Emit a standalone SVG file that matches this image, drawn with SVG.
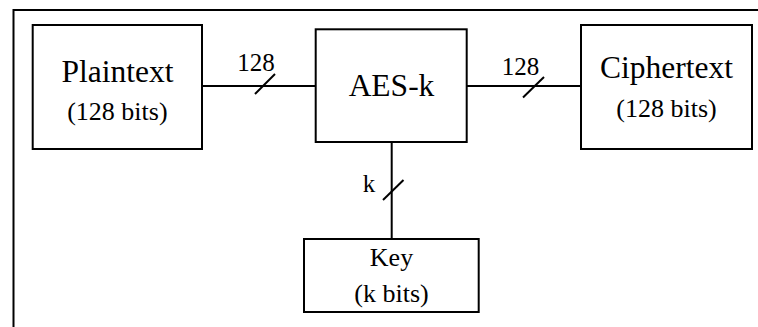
<svg xmlns="http://www.w3.org/2000/svg" width="758" height="327" viewBox="0 0 758 327">
  <style>
    .box { fill: #ffffff; stroke: #000000; stroke-width: 2; }
    .wire { fill: none; stroke: #000000; stroke-width: 2; }
    .t { fill: #000000; text-anchor: middle; }
    .big { font-size: 31.5px; }
    .mid { font-size: 26px; }
    .lbl { font-size: 25px; }
  </style>
  <rect width="758" height="327" fill="#ffffff"/>
  <!-- outer frame, running off the right and bottom edges -->
  <rect x="13.5" y="10" width="800" height="400" fill="none" stroke="#000000" stroke-width="2"/>

  <g font-family="Liberation Serif, DejaVu Serif, serif">
    <g id="connectors">
      <line class="wire" x1="202" y1="86" x2="316" y2="86"/>
      <line class="wire" x1="255" y1="94" x2="275" y2="74"/>
      <text class="t lbl" x="256" y="71">128</text>

      <line class="wire" x1="467" y1="86" x2="581" y2="86"/>
      <line class="wire" x1="523" y1="97.5" x2="544" y2="77"/>
      <text class="t lbl" x="520.5" y="75">128</text>

      <line class="wire" x1="391.7" y1="142" x2="391.7" y2="239"/>
      <line class="wire" x1="383" y1="200" x2="403.5" y2="180"/>
      <text class="t lbl" x="369" y="192">k</text>
    </g>

    <g id="plaintext">
      <rect class="box" x="32.7" y="25" width="169.3" height="124"/>
      <text class="t big" x="117.4" y="82">Plaintext</text>
      <text class="t mid" x="117.4" y="120">(128 bits)</text>
    </g>

    <g id="aes">
      <rect class="box" x="315.7" y="29.3" width="151" height="112.7"/>
      <text class="t big" x="391.5" y="96">AES-k</text>
    </g>

    <g id="ciphertext">
      <rect class="box" x="581" y="25" width="171" height="124"/>
      <text class="t big" x="666.5" y="78">Ciphertext</text>
      <text class="t mid" x="666.5" y="117">(128 bits)</text>
    </g>

    <g id="key">
      <rect class="box" x="304" y="239" width="174.7" height="73"/>
      <text class="t mid" x="391.5" y="266">Key</text>
      <text class="t mid" x="391.5" y="301.5">(k bits)</text>
    </g>
  </g>
</svg>
